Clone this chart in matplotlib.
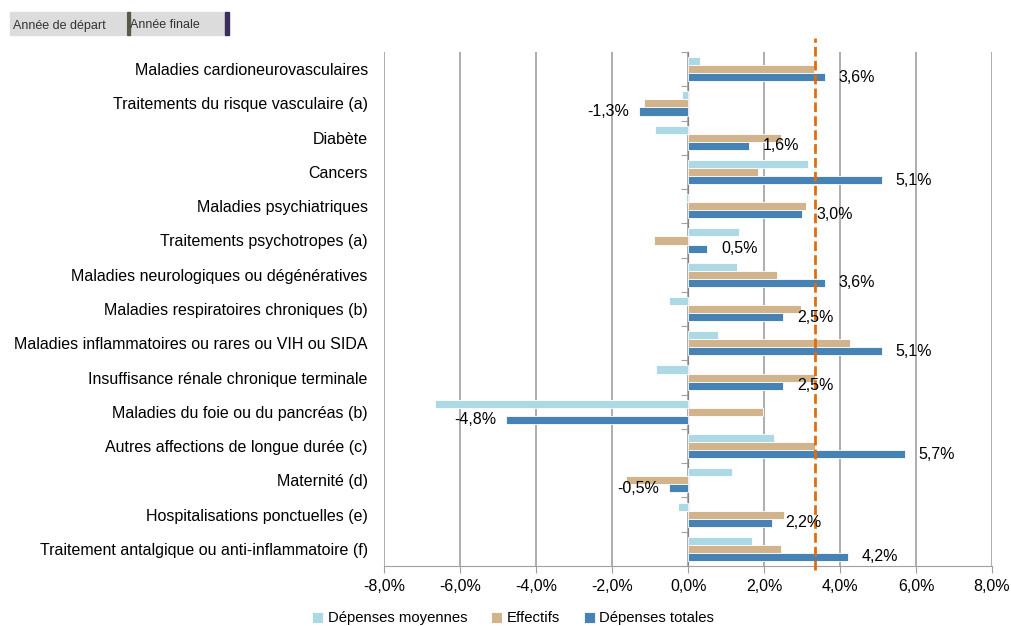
import numpy as np
import matplotlib.pyplot as plt
from matplotlib.patches import Rectangle

plt.rcParams['font.family'] = ['Liberation Sans', 'DejaVu Sans']

categories = [
    "Maladies cardioneurovasculaires",
    "Traitements du risque vasculaire (a)",
    "Diabète",
    "Cancers",
    "Maladies psychiatriques",
    "Traitements psychotropes (a)",
    "Maladies neurologiques ou dégénératives",
    "Maladies respiratoires chroniques (b)",
    "Maladies inflammatoires ou rares ou VIH ou SIDA",
    "Insuffisance rénale chronique terminale",
    "Maladies du foie ou du pancréas (b)",
    "Autres affections de longue durée (c)",
    "Maternité (d)",
    "Hospitalisations ponctuelles (e)",
    "Traitement antalgique ou anti-inflammatoire (f)",
]
depenses_moyennes = [0.3, -0.17, -0.88, 3.15, -0.07, 1.35, 1.28, -0.51, 0.78, -0.86, -6.67, 2.25, 1.14, -0.28, 1.69]
effectifs = [3.3, -1.16, 2.45, 1.84, 3.09, -0.91, 2.33, 2.96, 4.25, 3.33, 1.96, 3.33, -1.63, 2.51, 2.45]
depenses_totales = [3.6, -1.3, 1.6, 5.1, 3.0, 0.5, 3.6, 2.5, 5.1, 2.5, -4.8, 5.7, -0.5, 2.2, 4.2]
moyenne_totale = 3.35
xticks = [-8, -6, -4, -2, 0, 2, 4, 6, 8]

c_moy = '#ADD8E6'
c_eff = '#D2B48C'
c_tot = '#4682B4'

fig = plt.figure(figsize=(10.11, 6.26), dpi=100)
ax = fig.add_axes([0.3803, 0.0958, 0.6009, 0.8211])

n = len(categories)
y = np.arange(n)
h = 0.235
ax.barh(y - h, depenses_moyennes, height=h, color=c_moy, edgecolor='white', linewidth=0.6, label='Dépenses moyennes', zorder=3)
ax.barh(y, effectifs, height=h, color=c_eff, edgecolor='white', linewidth=0.6, label='Effectifs', zorder=3)
ax.barh(y + h, depenses_totales, height=h, color=c_tot, edgecolor='white', linewidth=0.6, label='Dépenses totales', zorder=3)

for yi, v in zip(y, depenses_totales):
    txt = f"{v:.1f}%".replace('.', ',')
    if v >= 0:
        ax.annotate(txt, (v, yi + h), xytext=(10, 0), textcoords='offset points',
                    ha='left', va='center', fontsize=11.5, zorder=5)
    else:
        ax.annotate(txt, (v, yi + h), xytext=(-7, 0), textcoords='offset points',
                    ha='right', va='center', fontsize=11.5, zorder=5)

ax.axvline(moyenne_totale, ymin=-0.008, ymax=1.027, clip_on=False,
           color='#E36C09', lw=2, ls=(0, (3.5, 1.5)), zorder=4)

ax.set_xlim(-8, 8)
ax.set_ylim(n - 0.5, -0.5)
ax.set_xticks(xticks)
ax.set_xticklabels([f"{t:.1f}%".replace('.', ',') for t in xticks], fontsize=11.5)
ax.set_yticks(y)
ax.set_yticklabels(categories, fontsize=11.5)
ax.tick_params(axis='y', length=0, pad=12)
ax.tick_params(axis='x', length=5, color='#A0A0A0', pad=4)
ax.grid(axis='x', color='#A0A0A0', lw=1.2, zorder=0)
for s in ['top', 'right', 'left']:
    ax.spines[s].set_visible(False)
ax.spines['bottom'].set_color('#A0A0A0')

# axe vertical a 0 avec graduations entre categories
sec = ax.secondary_yaxis(0.5)
sec.set_yticks(np.arange(n + 1) - 0.5)
sec.set_yticklabels([])
sec.tick_params(length=5, color='#A0A0A0', direction='in')
sec.spines['left'].set_color('#A0A0A0')

fig.legend(loc='center', bbox_to_anchor=(0.5076, 0.012), ncol=3, frameon=False,
           fontsize=10.7, handlelength=0.75, handleheight=0.75, handletextpad=0.3,
           columnspacing=1.6, borderaxespad=0)

# boutons en haut a gauche
W, H = 1011, 626
def px(x0, y0, w, hh):
    return (x0 / W, 1 - (y0 + hh) / H), w / W, hh / H
for (x0, w, lab) in [(10, 115, 'Année de départ'), (127, 98, 'Année finale')]:
    xy, ww, hh = px(x0, 12, w, 23)
    fig.patches.append(Rectangle(xy, ww, hh, transform=fig.transFigure, color='#DCDCDC', zorder=0))
    fig.text((x0 + 3) / W, 1 - 24 / H, lab, fontsize=9, color='#333333', va='center_baseline', ha='left')
xy, ww, hh = px(127, 12, 3, 23)
fig.patches.append(Rectangle(xy, ww, hh, transform=fig.transFigure, color='#5A5A48', zorder=1))
xy, ww, hh = px(225, 12, 4, 23)
fig.patches.append(Rectangle(xy, ww, hh, transform=fig.transFigure, color='#3C2D5A', zorder=1))

fig.savefig('out.png', dpi=100)
